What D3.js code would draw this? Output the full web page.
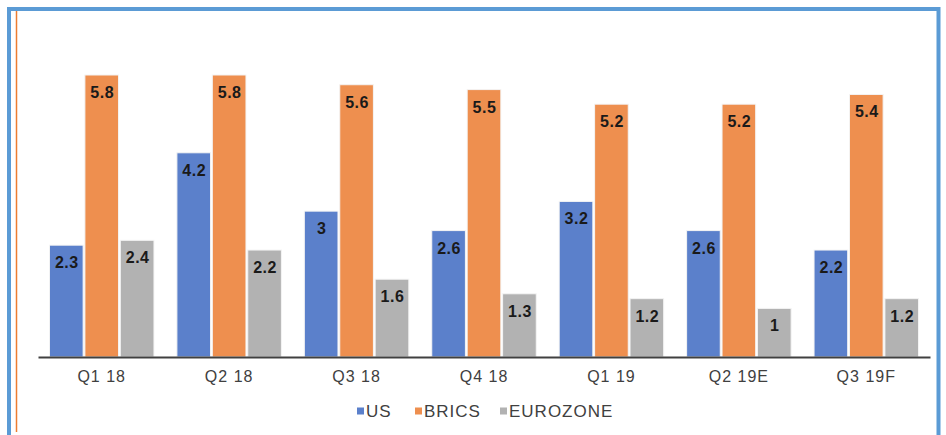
<!DOCTYPE html>
<html>
<head>
<meta charset="utf-8">
<script src="https://cdn.jsdelivr.net/npm/d3@7"></script>
<style>
  body { margin: 0; background: #fff; }
  svg { display: block; font-family: "Liberation Sans", Arial, sans-serif; }
</style>
</head>
<body>
<div class="container"></div>
<script>
var categories = ["Q1 18", "Q2 18", "Q3 18", "Q4 18", "Q1 19", "Q2 19E", "Q3 19F"];
var seriesNames = ["US", "BRICS", "EUROZONE"];
var usValues = [2.3, 4.2, 3, 2.6, 3.2, 2.6, 2.2];
var bricsValues = [5.8, 5.8, 5.6, 5.5, 5.2, 5.2, 5.4];
var euroValues = [2.4, 2.2, 1.6, 1.3, 1.2, 1, 1.2];
var colors = ["#5b80cb", "#ee8f4f", "#b2b2b2"];

var svgWidth = 946;
var svgHeight = 435;

var chartMargin = { top: 16, left: 38, right: 16, bottom: 78 };
var chartWidth = 930 - chartMargin.left;
var chartHeight = 357 - chartMargin.top;

var svg = d3.select(".container")
    .append("svg")
    .attr("width", svgWidth)
    .attr("height", svgHeight);

// frame: blue border on top/left/right, thin orange line inside
svg.append("path")
    .attr("d", "M9,435 L9,9 L938.5,9 L938.5,435")
    .attr("fill", "none")
    .attr("stroke", "#5b9bd5")
    .attr("stroke-width", 4);
svg.append("line")
    .attr("x1", 16.5).attr("x2", 16.5)
    .attr("y1", 11).attr("y2", 432)
    .attr("stroke", "#ed7d31")
    .attr("stroke-width", 1.5);

var chartGroup = svg.append("g")
    .attr("transform", `translate(${chartMargin.left}, ${chartMargin.top})`);

var data = categories.map((c, i) => ({
    cat: c,
    vals: [usValues[i], bricsValues[i], euroValues[i]]
}));

var x0 = d3.scaleBand()
    .domain(categories)
    .range([0, chartWidth])
    .paddingInner(0.18)
    .paddingOuter(0.09);

var x1 = d3.scaleBand()
    .domain(seriesNames)
    .range([0, x0.bandwidth()])
    .paddingInner(0.05);

var y = d3.scaleLinear()
    .domain([0, 5.8 * 341 / 282])
    .range([chartHeight, 0]);

var groups = chartGroup.selectAll(".grp")
    .data(data)
    .enter()
    .append("g")
    .attr("class", "grp")
    .attr("transform", d => `translate(${x0(d.cat)},0)`);

groups.selectAll("rect")
    .data(d => d.vals.map((v, j) => ({ key: seriesNames[j], v: v, j: j })))
    .enter()
    .append("rect")
    .attr("x", d => x1(d.key))
    .attr("y", d => y(d.v))
    .attr("width", x1.bandwidth())
    .attr("height", d => chartHeight - y(d.v))
    .attr("fill", d => colors[d.j])
    .attr("stroke", "#f4f4f4")
    .attr("stroke-width", 1);

groups.selectAll("text")
    .data(d => d.vals.map((v, j) => ({ key: seriesNames[j], v: v })))
    .enter()
    .append("text")
    .attr("x", d => x1(d.key) + x1.bandwidth() / 2 + 0.5)
    .attr("y", d => y(d.v) + 23)
    .attr("text-anchor", "middle")
    .attr("font-size", "16px")
    .attr("font-weight", "bold")
    .attr("letter-spacing", "0.5px")
    .attr("fill", "#1a1a1a")
    .text(d => d.v);

var bottomAxis = d3.axisBottom(x0).tickSize(0).tickPadding(14);
var axisG = chartGroup.append("g")
    .attr("transform", `translate(0, ${chartHeight})`)
    .call(bottomAxis);
axisG.select(".domain").attr("stroke", "#404040").attr("stroke-width", 2);
axisG.selectAll("text")
    .attr("font-size", "16px")
    .attr("letter-spacing", "1px")
    .attr("font-family", "Liberation Sans, Arial, sans-serif")
    .attr("fill", "#404040");

// legend
var legendX = [357, 415, 500];
var legend = svg.append("g");
seriesNames.forEach((s, i) => {
    legend.append("rect")
        .attr("x", legendX[i])
        .attr("y", 407.5)
        .attr("width", 7)
        .attr("height", 7)
        .attr("fill", colors[i]);
    legend.append("text")
        .attr("x", legendX[i] + 9)
        .attr("y", 417)
        .attr("font-size", "17px")
        .attr("letter-spacing", "1px")
        .attr("fill", "#404040")
        .text(s);
});
</script>
</body>
</html>
